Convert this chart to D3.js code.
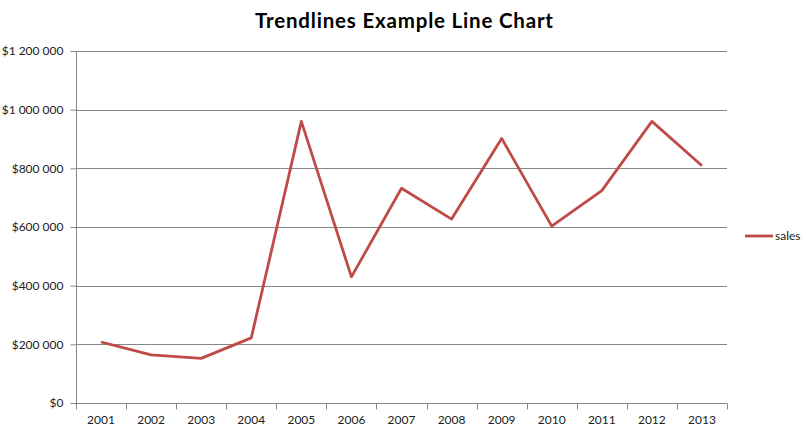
<!DOCTYPE html>
<html><head><meta charset="utf-8">
<script src="https://cdn.jsdelivr.net/npm/d3@7/dist/d3.min.js"></script>
<style>body{margin:0;background:#fff}svg{display:block}</style>
</head><body>
<script>
const years = ["2001","2002","2003","2004","2005","2006","2007","2008","2009","2010","2011","2012","2013"];
const sales = [208000,164000,152000,222000,960000,430000,732000,627000,902000,603000,724000,960000,809000];
const yTicks = [0,200000,400000,600000,800000,1000000,1200000];
const seriesName = "sales";
const title = "Trendlines Example Line Chart";

const W=806,H=432;
const svg=d3.select("body").append("svg").attr("width",W).attr("height",H);
const pLeft=76,pRight=727,pTop=51,pBottom=403;
const x=d3.scaleBand().domain(years).range([pLeft,pRight]);
const y=d3.scaleLinear().domain([0,1200000]).range([pBottom,pTop]);
const grid="#878787";
const fmt=v=>"$"+d3.format(",")(v).replace(/,/g," ");

svg.append("text").attr("x",404).attr("y",28).attr("text-anchor","middle")
  .attr("font-family","Lato, sans-serif").attr("font-weight","bold").attr("font-size",20.5)
  .attr("textLength",298).attr("lengthAdjust","spacing")
  .attr("fill","#000").text(title);

// gridlines
svg.append("g").selectAll("line").data(yTicks).join("line")
  .attr("x1",pLeft).attr("x2",pRight).attr("y1",d=>Math.round(y(d))+0.5).attr("y2",d=>Math.round(y(d))+0.5)
  .attr("stroke",grid).attr("stroke-width",1);

// y axis
const ya=svg.append("g").attr("transform",`translate(${pLeft+0.5},0)`)
  .call(d3.axisLeft(y).tickValues(yTicks).tickFormat(fmt).tickSize(6).tickPadding(7));
ya.select(".domain").attr("stroke",grid).attr("d",`M0,${pTop}V${pBottom}`);
ya.selectAll(".tick line").attr("stroke",grid);
ya.selectAll(".tick text").attr("font-family","Lato, sans-serif").attr("font-size",12).attr("fill","#222");

// x axis
const xa=svg.append("g").attr("transform",`translate(0,${pBottom+0.5})`);
xa.append("line").attr("x1",pLeft).attr("x2",pRight).attr("stroke",grid);
const bounds=years.map(d=>x(d)).concat([pRight]);
xa.selectAll("line.tk").data(bounds).join("line").attr("class","tk")
  .attr("x1",d=>Math.round(d)+0.5).attr("x2",d=>Math.round(d)+0.5).attr("y1",0).attr("y2",6).attr("stroke",grid);
xa.selectAll("text").data(years).join("text")
  .attr("x",d=>x(d)+x.bandwidth()/2).attr("y",20).attr("text-anchor","middle")
  .attr("font-family","Lato, sans-serif").attr("font-size",12).attr("fill","#222").text(d=>d);

// line
const line=d3.line().x((d,i)=>x(years[i])+x.bandwidth()/2).y(d=>y(d));
svg.append("path").datum(sales).attr("d",line).attr("fill","none")
  .attr("stroke","#BE4B48").attr("stroke-width",2.8).attr("stroke-linejoin","round");

// legend
svg.append("line").attr("x1",745).attr("x2",773).attr("y1",236).attr("y2",236)
  .attr("stroke","#BE4B48").attr("stroke-width",2.8);
svg.append("text").attr("x",775).attr("y",240).attr("font-family","Lato, sans-serif")
  .attr("font-size",12).attr("fill","#222").text(seriesName);
</script>
</body></html>
